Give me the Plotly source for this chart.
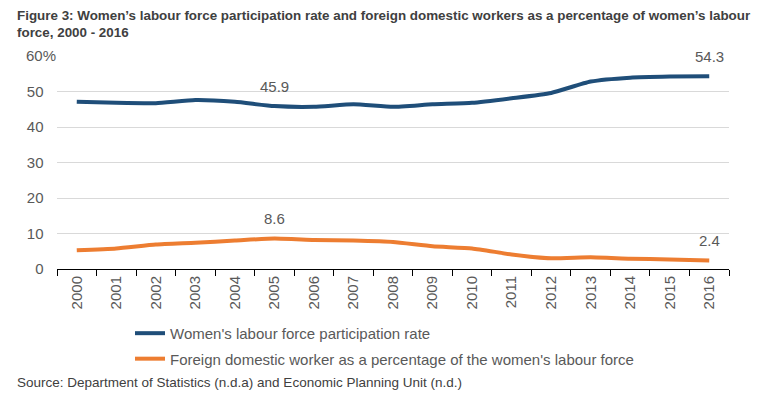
import plotly.graph_objects as go

years = [str(y) for y in range(2000, 2017)]
participation = [47.1, 46.8, 46.7, 47.6, 47.1, 45.9, 45.7, 46.4, 45.7, 46.4, 46.8, 48.1, 49.6, 52.8, 53.9, 54.2, 54.3]
fdw_share = [5.3, 5.8, 6.9, 7.4, 8.0, 8.6, 8.2, 8.0, 7.6, 6.4, 5.8, 4.1, 3.0, 3.3, 2.9, 2.7, 2.4]
series_names = ["Women's labour force participation rate",
                "Foreign domestic worker as a percentage of the women's labour force"]
y_ticks = [0, 10, 20, 30, 40, 50, 60]
y_ticktext = ["0\u00a0\u00a0\u00a0", "10\u00a0\u00a0\u00a0", "20\u00a0\u00a0\u00a0", "30\u00a0\u00a0\u00a0",
              "40\u00a0\u00a0\u00a0", "50\u00a0\u00a0\u00a0", "60%"]
title_text = ("Figure 3: Women\u2019s labour force participation rate and foreign domestic workers as a percentage of women\u2019s labour"
              "<br>force, 2000 - 2016")
source_text = "Source: Department of Statistics (n.d.a) and Economic Planning Unit (n.d.)"

BLUE = "#1F4E79"
ORANGE = "#ED7D31"
GREY = "#595959"
FONT = "Liberation Sans, Arial, sans-serif"

L, R, T, B = 57, 31, 56, 127
PW, PH = 760 - L - R, 396 - T - B

fig = go.Figure()
fig.add_trace(go.Scatter(x=years, y=participation, mode="lines", name=series_names[0],
                         line=dict(color=BLUE, width=4, shape="spline", smoothing=0.5),
                         legendgroup="a"))
fig.add_trace(go.Scatter(x=years, y=fdw_share, mode="lines", name=series_names[1],
                         line=dict(color=ORANGE, width=4, shape="spline", smoothing=0.5),
                         legendgroup="b"))

# data labels (category axis: position by category index)
label_idx = [(0, 5), (0, 16), (1, 5), (1, 16)]
series = [participation, fdw_share]
for s, i in label_idx:
    fig.add_annotation(x=i, y=series[s][i], text=f"{series[s][i]:.1f}", showarrow=False,
                       yshift=20, font=dict(family=FONT, size=15, color=GREY))

# title
fig.add_annotation(xref="paper", yref="paper", x=(15 - L) / PW, y=1 + (T - 6) / PH,
                   xanchor="left", yanchor="top", align="left", text="<b>" + title_text + "</b>",
                   showarrow=False, font=dict(family=FONT, size=13.4, color="#404040"))
# source
fig.add_annotation(xref="paper", yref="paper", x=(15 - L) / PW, y=(269 - 382) / PH,
                   xanchor="left", yanchor="middle", text=source_text, showarrow=False,
                   font=dict(family=FONT, size=13.5, color="#404040"))

fig.update_layout(
    width=760, height=396,
    margin=dict(l=L, r=R, t=T, b=B),
    paper_bgcolor="white", plot_bgcolor="white",
    font=dict(family=FONT, size=15, color=GREY),
    legend=dict(orientation="v", x=(130 - L) / PW, xanchor="left", y=-0.225, yanchor="top",
                traceorder="grouped", tracegroupgap=3,
                font=dict(family=FONT, size=15, color=GREY), bgcolor="rgba(0,0,0,0)"),
    showlegend=True,
)
fig.update_xaxes(type="category", range=[-0.5, 16.5], showgrid=False, showline=True,
                 linecolor="black", linewidth=1,
                 ticks="outside", tickson="boundaries", ticklen=6, tickcolor="black",
                 tickangle=-90, tickfont=dict(family=FONT, size=15, color=GREY))
fig.update_yaxes(range=[0, 60], tickvals=y_ticks, ticktext=y_ticktext, showgrid=True,
                 gridcolor="#D9D9D9", gridwidth=1, zeroline=False, showline=False,
                 ticks="", ticklabelstandoff=0, tickfont=dict(family=FONT, size=15, color=GREY))

fig.write_html("out.html", config={"displayModeBar": False},
               post_script="document.body.style.margin='0';")
